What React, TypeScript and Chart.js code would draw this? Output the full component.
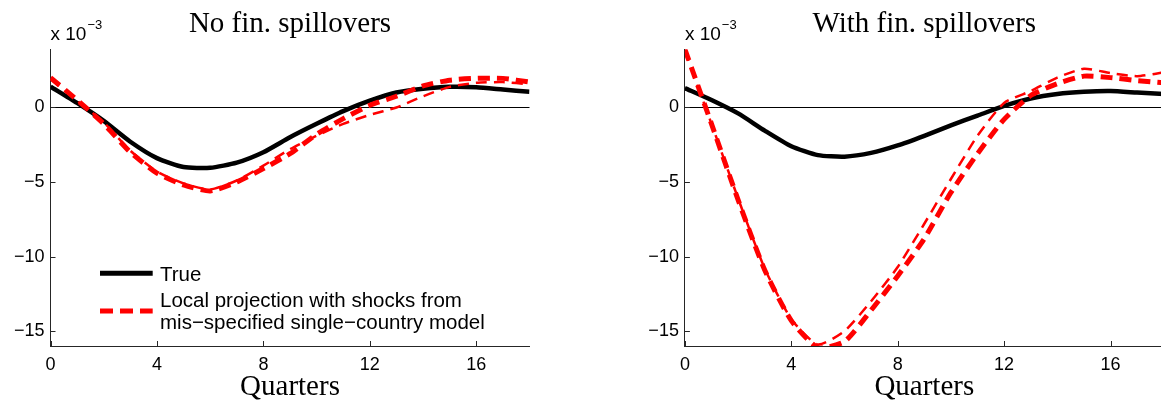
import React, { useEffect, useRef } from 'react';
import { Chart, registerables } from 'chart.js';

Chart.register(...registerables);

// ---------- data (values in units of 10^-3) ----------
const quarters = [0, 1, 2, 3, 4, 5, 6, 7, 8, 9, 10, 11, 12, 13, 14, 15, 16, 17, 18];

const noSpillTrue = [1.4, 0.3, -0.9, -2.3, -3.4, -4.0, -4.05, -3.7, -3.0, -2.0, -1.1, -0.25, 0.45, 1.0, 1.25, 1.38, 1.35, 1.2, 1.05];
const noSpillLP = [2.0, 0.5, -1.1, -3.0, -4.4, -5.2, -5.6, -5.0, -4.1, -3.1, -1.8, -0.75, 0.15, 0.75, 1.45, 1.83, 1.95, 1.95, 1.7];
const noSpillLPAlt = [1.9, 0.45, -1.0, -2.9, -4.3, -5.1, -5.5, -4.9, -3.9, -2.8, -1.9, -1.1, -0.5, 0.0, 0.75, 1.38, 1.65, 1.7, 1.55];

const withSpillTrue = [1.3, 0.5, -0.4, -1.55, -2.6, -3.2, -3.3, -3.05, -2.55, -1.9, -1.2, -0.55, 0.1, 0.6, 0.9, 1.05, 1.1, 1.0, 0.9];
const withSpillLP = [3.9, -1.1, -6.2, -10.9, -14.3, -16.1, -15.7, -13.6, -11.3, -8.8, -5.7, -3.1, -0.8, 0.8, 1.6, 2.1, 2.0, 1.8, 1.65];
const withSpillLPAlt = [3.8, -1.1, -6.1, -10.8, -14.2, -15.9, -15.0, -13.0, -10.7, -7.8, -4.8, -1.9, 0.3, 1.1, 2.0, 2.6, 2.3, 2.1, 2.35];

const xTickValues = [0, 4, 8, 12, 16];
const yTickValues = [-15, -10, -5, 0];
const panelTitles = ['No fin. spillovers', 'With fin. spillovers'];
const xAxisTitle = 'Quarters';
const exponentBase = 'x 10';
const exponentPower = '\u22123';
const legendLabels = ['True', 'Local projection with shocks from', 'mis\u2212specified single\u2212country model'];

const X_MIN = 0;
const X_MAX = 18;
const Y_MIN = -16;
const Y_MAX = 3.9;

const SANS = '"Liberation Sans", Arial, sans-serif';
const SERIF = '"Liberation Serif", "Times New Roman", serif';

type PanelProps = {
  title: string;
  trueSeries: number[];
  lpSeries: number[];
  lpAltSeries: number[];
  showLegend: boolean;
  left: number;
  width: number;
  axisWidth: number;
  padRight: number;
};

function fmt(v: number): string {
  return v < 0 ? '\u2212' + Math.abs(v) : String(v);
}

function Panel(props: PanelProps) {
  const ref = useRef<HTMLCanvasElement | null>(null);
  useEffect(() => {
    const canvas = ref.current;
    if (!canvas) return;

    const decor = {
      id: 'decor',
      beforeDatasetsDraw(chart: any) {
        const { ctx, chartArea } = chart;
        const y = chart.scales.y;
        const py = Math.round(y.getPixelForValue(0)) + 0.5;
        ctx.save();
        ctx.strokeStyle = '#000';
        ctx.lineWidth = 1;
        ctx.beginPath();
        ctx.moveTo(chartArea.left, py);
        ctx.lineTo(chartArea.right, py);
        ctx.stroke();
        ctx.restore();
      },
      afterDraw(chart: any) {
        const { ctx, chartArea } = chart;
        const xs = chart.scales.x;
        const ys = chart.scales.y;
        ctx.save();
        // inward tick marks
        ctx.strokeStyle = '#262626';
        ctx.lineWidth = 1;
        ctx.beginPath();
        xTickValues.forEach((v) => {
          const px = Math.round(xs.getPixelForValue(v)) + 0.5;
          ctx.moveTo(px, chartArea.bottom);
          ctx.lineTo(px, chartArea.bottom - 5);
        });
        yTickValues.forEach((v) => {
          const py = Math.round(ys.getPixelForValue(v)) + 0.5;
          ctx.moveTo(chartArea.left, py);
          ctx.lineTo(chartArea.left + 5, py);
        });
        ctx.stroke();

        // title
        ctx.fillStyle = '#000';
        ctx.font = '29px ' + SERIF;
        ctx.textAlign = 'center';
        ctx.textBaseline = 'alphabetic';
        ctx.fillText(props.title, (chartArea.left + chartArea.right) / 2, 31.7);

        // exponent
        ctx.textAlign = 'left';
        ctx.font = '19px ' + SANS;
        ctx.fillText(exponentBase, chartArea.left, 40);
        const w = ctx.measureText(exponentBase).width;
        ctx.font = '13px ' + SANS;
        ctx.fillText(exponentPower, chartArea.left + w + 1, 28.5);

        // legend
        if (props.showLegend) {
          const lx0 = chartArea.left + 49.5;
          const lx1 = chartArea.left + 102.2;
          ctx.lineCap = 'butt';
          ctx.strokeStyle = '#000';
          ctx.lineWidth = 5;
          ctx.setLineDash([]);
          ctx.beginPath();
          ctx.moveTo(lx0, 273.3);
          ctx.lineTo(lx1, 273.3);
          ctx.stroke();
          ctx.strokeStyle = '#ff0000';
          ctx.setLineDash([13, 7]);
          ctx.beginPath();
          ctx.moveTo(lx0, 311);
          ctx.lineTo(lx1, 311);
          ctx.stroke();
          ctx.setLineDash([]);
          ctx.fillStyle = '#000';
          ctx.font = '20.5px ' + SANS;
          ctx.textAlign = 'left';
          const tx = chartArea.left + 109.5;
          ctx.fillText(legendLabels[0], tx, 281);
          ctx.fillText(legendLabels[1], tx, 306.7);
          ctx.fillText(legendLabels[2], tx, 329);
        }
        ctx.restore();
      },
    };

    const toPts = (vals: number[]) => quarters.map((q, i) => ({ x: q, y: vals[i] }));

    const chart = new Chart(canvas, {
      type: 'line',
      data: {
        datasets: [
          {
            label: 'True',
            data: toPts(props.trueSeries),
            borderColor: '#000000',
            borderWidth: 4.5,
            pointRadius: 0,
            tension: 0.2,
            fill: false,
            clip: 0,
            order: 3,
          },
          {
            label: 'Local projection (alt)',
            data: toPts(props.lpAltSeries),
            borderColor: '#ff0000',
            borderWidth: 2.5,
            borderDash: [11, 7],
            pointRadius: 0,
            tension: 0.2,
            fill: false,
            clip: 0,
            order: 2,
          },
          {
            label: 'Local projection',
            data: toPts(props.lpSeries),
            borderColor: '#ff0000',
            borderWidth: 5,
            borderDash: [12, 7],
            pointRadius: 0,
            tension: 0.2,
            fill: false,
            clip: 0,
            order: 1,
          },
        ],
      },
      options: {
        responsive: false,
        animation: false,
        events: [],
        layout: { padding: { left: 0, right: props.padRight, top: 49.3, bottom: 0 } },
        plugins: {
          legend: { display: false },
          title: { display: false },
          tooltip: { enabled: false },
        },
        scales: {
          x: {
            type: 'linear',
            min: X_MIN,
            max: X_MAX,
            grid: { display: false, drawTicks: false },
            border: { display: true, color: '#262626', width: 1 },
            afterBuildTicks: (scale: any) => {
              scale.ticks = xTickValues.map((v) => ({ value: v }));
            },
            afterFit: (scale: any) => {
              scale.height = 57;
            },
            ticks: {
              color: '#000',
              font: { family: SANS, size: 18 },
              padding: 8,
              maxRotation: 0,
              autoSkip: false,
              callback: (v: any) => fmt(Number(v)),
            },
            title: {
              display: true,
              text: xAxisTitle,
              color: '#000',
              font: { family: SERIF, size: 29, lineHeight: 1 },
              padding: { top: 0, bottom: 1.6 },
            },
          },
          y: {
            type: 'linear',
            min: Y_MIN,
            max: Y_MAX,
            grid: { display: false, drawTicks: false },
            border: { display: true, color: '#262626', width: 1 },
            afterBuildTicks: (scale: any) => {
              scale.ticks = yTickValues.map((v) => ({ value: v }));
            },
            afterFit: (scale: any) => {
              scale.width = props.axisWidth;
            },
            ticks: {
              color: '#000',
              font: { family: SANS, size: 18 },
              padding: 6,
              autoSkip: false,
              callback: (v: any) => fmt(Number(v)),
            },
          },
        },
      } as any,
      plugins: [decor],
    });
    return () => chart.destroy();
  }, []);

  return (
    <canvas
      ref={ref}
      width={props.width}
      height={403}
      style={{ position: 'absolute', left: props.left, top: 0, width: props.width, height: 403 }}
    />
  );
}

export default function App() {
  return (
    <div
      style={{
        position: 'fixed',
        left: 0,
        top: 0,
        width: 1161,
        height: 403,
        overflow: 'hidden',
        background: '#fff',
      }}
    >
      <Panel
        title={panelTitles[0]}
        trueSeries={noSpillTrue}
        lpSeries={noSpillLP}
        lpAltSeries={noSpillLPAlt}
        showLegend={true}
        left={0}
        width={560}
        axisWidth={50.5}
        padRight={30.5}
      />
      <Panel
        title={panelTitles[1]}
        trueSeries={withSpillTrue}
        lpSeries={withSpillLP}
        lpAltSeries={withSpillLPAlt}
        showLegend={false}
        left={600}
        width={600}
        axisWidth={84.9}
        padRight={36.3}
      />
    </div>
  );
}
